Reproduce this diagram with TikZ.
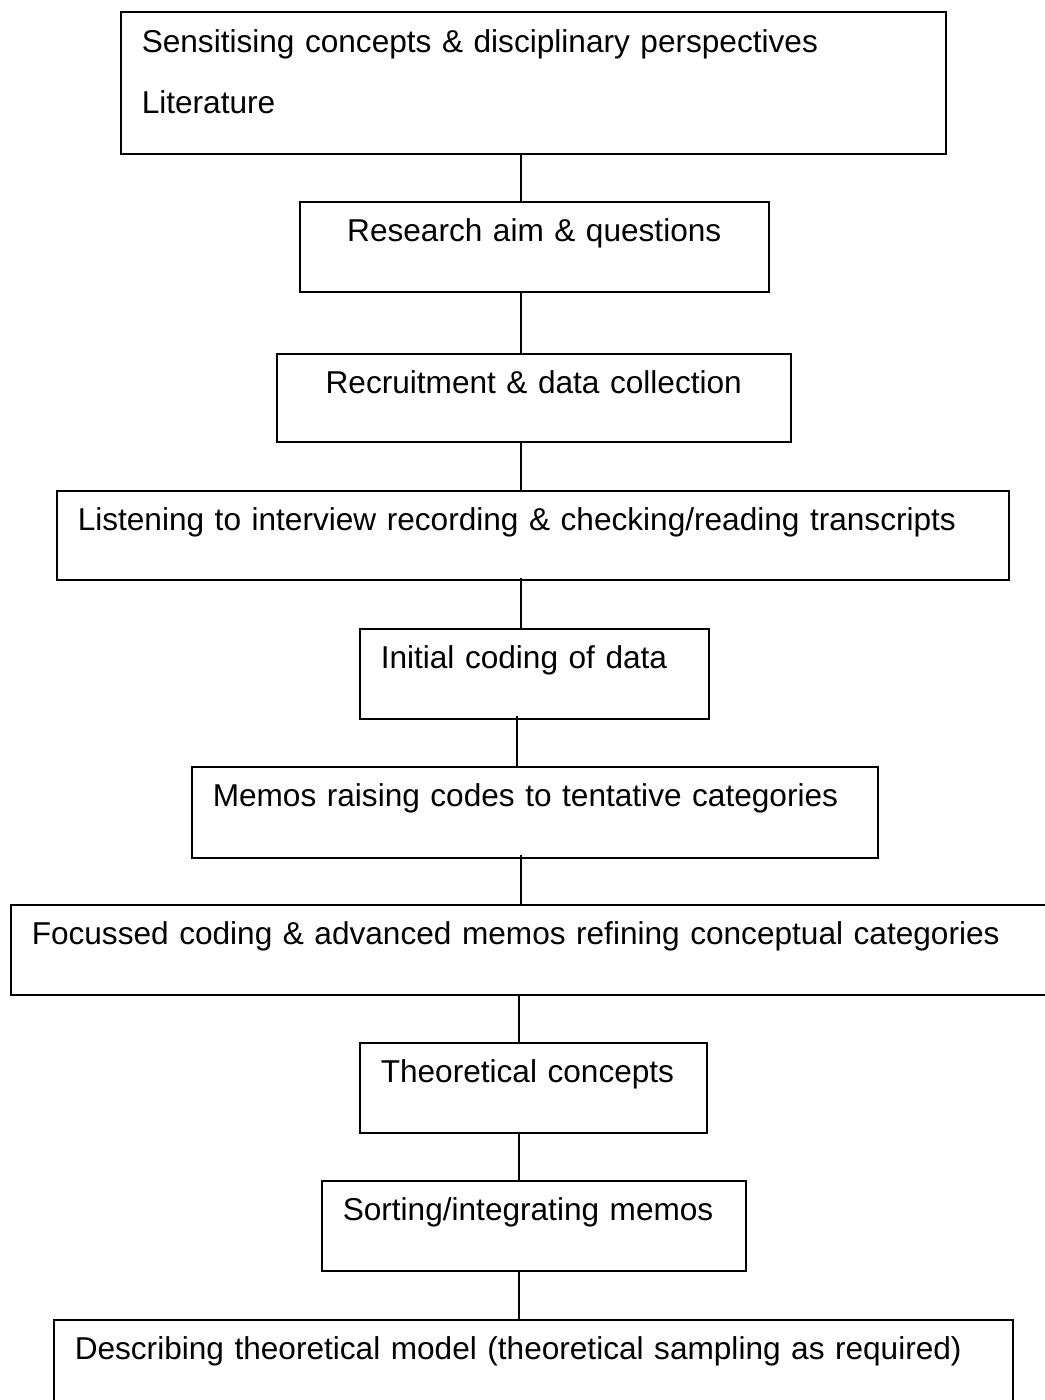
\documentclass[tikz,border=0pt]{standalone}
\usepackage{fontspec}
\setmainfont{Liberation Sans}
\usetikzlibrary{positioning}

\begin{document}
\begin{tikzpicture}[x=1pt,y=-1pt]
 \tikzset{box/.style={draw,line width=1.5pt,anchor=north west,inner xsep=21pt,inner ysep=0pt,
   text height=40pt,text depth=50pt,align=left,font=\fontsize{31.6}{38}\selectfont},
  link/.style={line width=1.5pt}}
 \useasboundingbox (0,0) rectangle (1044,1400);

 \node[box,text width=783pt,text height=41pt,text depth=101pt] (A) at (120,11)
   {Sensitising concepts \& disciplinary perspectives\\[23pt]Literature};
 \node[box,text width=427pt,align=center] (B) at (299,201) {Research aim \& questions};
 \node[box,text width=472pt,text depth=48pt,align=center] (C) at (276,353) {Recruitment \& data collection};
 \node[box,text width=910pt,text depth=49pt] (D) at (56,490) {Listening to interview recording \& checking/reading transcripts};
 \node[box,text width=307pt] (E) at (359,628) {Initial coding of data};
 \node[box,text width=644pt,text depth=51pt] (F) at (191,766) {Memos raising codes to tentative categories};
 \node[box,text width=1018pt] (G) at (10,904) {Focussed coding \& advanced memos refining conceptual categories};
 \node[box,text width=305pt] (H) at (359,1042) {Theoretical concepts};
 \node[box,text width=382pt] (I) at (321,1180) {Sorting/integrating memos};
 \node[box,text width=917pt,text depth=61pt] (J) at (53,1319) {Describing theoretical model (theoretical sampling as required)};

 \coordinate (s) at (521,0);
 \coordinate (t) at (517,0);
 \coordinate (u) at (519,0);
 \draw[link] (A.south -| s) -- (B.north -| s);
 \draw[link] (B.south -| s) -- (C.north -| s);
 \draw[link] (C.south -| s) -- (D.north -| s);
 \draw[link] ([yshift=3pt]D.south -| s) -- (E.north -| s);
 \draw[link] ([yshift=4pt]E.south -| t) -- (F.north -| t);
 \draw[link] ([yshift=4pt]F.south -| s) -- (G.north -| s);
 \draw[link] (G.south -| u) -- (H.north -| u);
 \draw[link] (H.south -| u) -- (I.north -| u);
 \draw[link] (I.south -| u) -- (J.north -| u);
\end{tikzpicture}
\end{document}
